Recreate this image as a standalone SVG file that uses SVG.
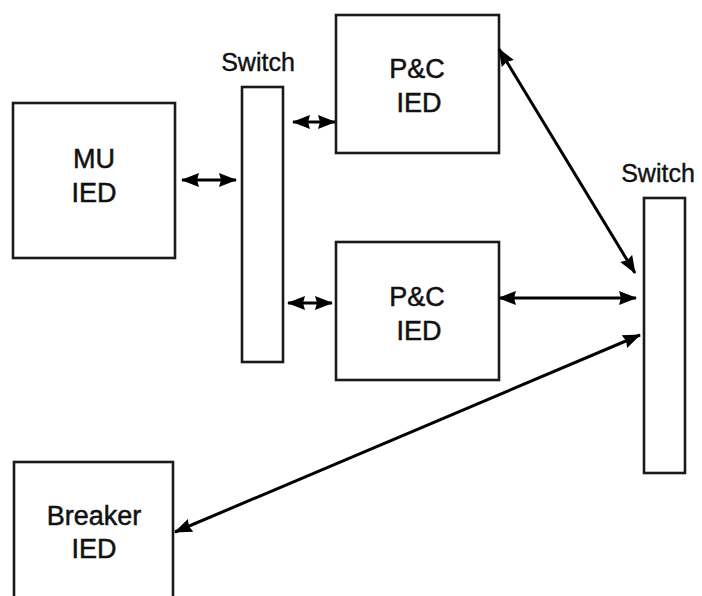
<svg xmlns="http://www.w3.org/2000/svg" width="702" height="596" viewBox="0 0 702 596">
<defs>
<style>
.box{fill:#fff;stroke:#1a1a1a;stroke-width:2.6}
.lbl{font-family:"Liberation Sans",Arial,sans-serif;font-size:27px;fill:#111;stroke:#111;stroke-width:0.5;text-anchor:middle}
.sw{font-family:"Liberation Sans",Arial,sans-serif;font-size:25px;fill:#111;stroke:#111;stroke-width:0.4;text-anchor:middle}
.con{stroke:#000;stroke-width:3;fill:none;marker-start:url(#ah);marker-end:url(#ah)}
</style>
<marker id="ah" markerUnits="userSpaceOnUse" viewBox="0 0 18 16" refX="17" refY="8" markerWidth="18" markerHeight="16" orient="auto-start-reverse">
<path d="M0,1 L18,8 L0,15 L2,8 Z" fill="#000"/>
</marker>
</defs>
<rect width="702" height="596" fill="#fff"/>
<g id="mu-ied">
<rect class="box" x="13" y="103" width="162" height="155"/>
<text class="lbl" x="94" y="168">MU</text>
<text class="lbl" x="94" y="202">IED</text>
</g>
<g id="switch1">
<rect class="box" x="242" y="87" width="41" height="275"/>
<text class="sw" x="258" y="71">Switch</text>
</g>
<g id="pc-ied-top">
<rect class="box" x="336" y="15" width="163" height="138"/>
<text class="lbl" x="417" y="78">P&amp;C</text>
<text class="lbl" x="419" y="112">IED</text>
</g>
<g id="pc-ied-bottom">
<rect class="box" x="336" y="242" width="163" height="138"/>
<text class="lbl" x="417" y="306">P&amp;C</text>
<text class="lbl" x="419" y="340">IED</text>
</g>
<g id="switch2">
<rect class="box" x="644" y="198" width="41" height="275"/>
<text class="sw" x="658" y="182">Switch</text>
</g>
<g id="breaker-ied">
<rect class="box" x="14" y="462" width="159" height="150"/>
<text class="lbl" x="94" y="525">Breaker</text>
<text class="lbl" x="94" y="558">IED</text>
</g>
<g id="connectors">
<line class="con" x1="182" y1="180" x2="236" y2="180"/>
<line class="con" x1="293" y1="122" x2="335" y2="122"/>
<line class="con" x1="288" y1="303" x2="332" y2="303"/>
<line class="con" x1="499" y1="49" x2="635" y2="273"/>
<line class="con" x1="499" y1="298" x2="636" y2="298"/>
<line class="con" x1="175" y1="532" x2="640" y2="335"/>
</g>
</svg>
